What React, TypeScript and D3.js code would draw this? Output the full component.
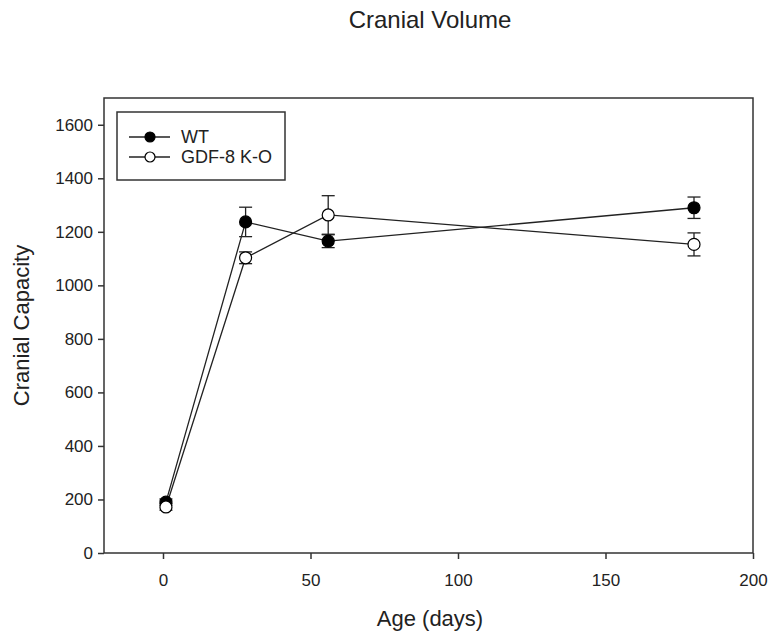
import { useEffect, useRef } from 'react'
import * as d3 from 'd3'

const ages = [1, 28, 56, 180]
const wtMean = [190, 1237, 1165, 1290]
const wtErr = [12, 55, 24, 40]
const koMean = [172, 1103, 1263, 1153]
const koErr = [12, 22, 72, 43]
const xTicks = [0, 50, 100, 150, 200]
const yTicks = [0, 200, 400, 600, 800, 1000, 1200, 1400, 1600]

const W = 773
const H = 637

export default function App() {
  const svgRef = useRef<SVGSVGElement>(null)

  useEffect(() => {
    if (!svgRef.current) return
    const svg = d3.select(svgRef.current)
    svg.selectAll('*').remove()

    const margin = { top: 98, right: 20, bottom: 84, left: 104 }
    const width = W - margin.left - margin.right
    const height = H - margin.top - margin.bottom
    const font = 'Liberation Sans, Arial, sans-serif'

    const g = svg.append('g').attr('transform', `translate(${margin.left},${margin.top})`)

    const x = d3.scaleLinear().domain([-20, 200]).range([0, width])
    const y = d3.scaleLinear().domain([0, 1700]).range([height, 0])

    // frame
    g.append('rect')
      .attr('width', width)
      .attr('height', height)
      .attr('fill', 'none')
      .attr('stroke', '#333')
      .attr('stroke-width', 1.5)

    const xAxis = g.append('g')
      .attr('transform', `translate(0,${height})`)
      .call(d3.axisBottom(x).tickValues(xTicks).tickFormat(d3.format('d')).tickSize(6).tickPadding(15))
    const yAxis = g.append('g')
      .call(d3.axisLeft(y).tickValues(yTicks).tickFormat(d3.format('d')).tickSize(6).tickPadding(5))
    ;[xAxis, yAxis].forEach((a) => {
      a.select('.domain').remove()
      a.selectAll('line').attr('stroke', '#333').attr('stroke-width', 1.5)
      a.selectAll('text').attr('font-family', font).attr('font-size', 17).attr('fill', '#222')
    })

    const series = [
      { name: 'WT', mean: wtMean, err: wtErr, fill: '#000' },
      { name: 'GDF-8 K-O', mean: koMean, err: koErr, fill: '#fff' },
    ]

    const line = d3.line<number>()
      .x((_, i) => x(ages[i]))
      .y((d) => y(d))

    series.forEach((s) => {
      g.append('path')
        .attr('d', line(s.mean))
        .attr('fill', 'none')
        .attr('stroke', '#222')
        .attr('stroke-width', 1.3)

      s.mean.forEach((m, i) => {
        const cx = x(ages[i])
        const top = y(m + s.err[i])
        const bot = y(m - s.err[i])
        const eb = g.append('g').attr('stroke', '#222').attr('stroke-width', 1.3)
        eb.append('line').attr('x1', cx).attr('x2', cx).attr('y1', top).attr('y2', bot)
        eb.append('line').attr('x1', cx - 6.5).attr('x2', cx + 6.5).attr('y1', top).attr('y2', top)
        eb.append('line').attr('x1', cx - 6.5).attr('x2', cx + 6.5).attr('y1', bot).attr('y2', bot)
      })
    })

    series.forEach((s) => {
      g.selectAll(null)
        .data(s.mean)
        .enter()
        .append('circle')
        .attr('cx', (_, i) => x(ages[i]))
        .attr('cy', (d) => y(d))
        .attr('r', 6)
        .attr('fill', s.fill)
        .attr('stroke', '#000')
        .attr('stroke-width', 1.2)
    })

    // legend
    const legend = g.append('g').attr('transform', 'translate(13,14)')
    legend.append('rect')
      .attr('width', 168)
      .attr('height', 68)
      .attr('fill', '#fff')
      .attr('stroke', '#333')
      .attr('stroke-width', 1.5)
    series.forEach((s, i) => {
      const ly = 25 + i * 20
      legend.append('line')
        .attr('x1', 12).attr('x2', 53).attr('y1', ly).attr('y2', ly)
        .attr('stroke', '#222').attr('stroke-width', 1.3)
      legend.append('circle')
        .attr('cx', 33).attr('cy', ly).attr('r', 5)
        .attr('fill', s.fill).attr('stroke', '#000').attr('stroke-width', 1.2)
      legend.append('text')
        .attr('x', 64).attr('y', ly).attr('dy', '0.35em')
        .attr('font-family', font).attr('font-size', 18).attr('fill', '#222')
        .text(s.name)
    })

    // titles
    svg.append('text')
      .attr('x', 430).attr('y', 28)
      .attr('text-anchor', 'middle')
      .attr('font-family', font).attr('font-size', 24).attr('fill', '#222')
      .text('Cranial Volume')
    svg.append('text')
      .attr('x', 430).attr('y', 626)
      .attr('text-anchor', 'middle')
      .attr('font-family', font).attr('font-size', 22).attr('fill', '#222')
      .text('Age (days)')
    svg.append('text')
      .attr('transform', `translate(29,${margin.top + height / 2}) rotate(-90)`)
      .attr('text-anchor', 'middle')
      .attr('font-family', font).attr('font-size', 22).attr('fill', '#222')
      .text('Cranial Capacity')
  }, [])

  return (
    <svg
      ref={svgRef}
      width={W}
      height={H}
      style={{ position: 'absolute', left: 0, top: 0, background: '#fff' }}
    />
  )
}
